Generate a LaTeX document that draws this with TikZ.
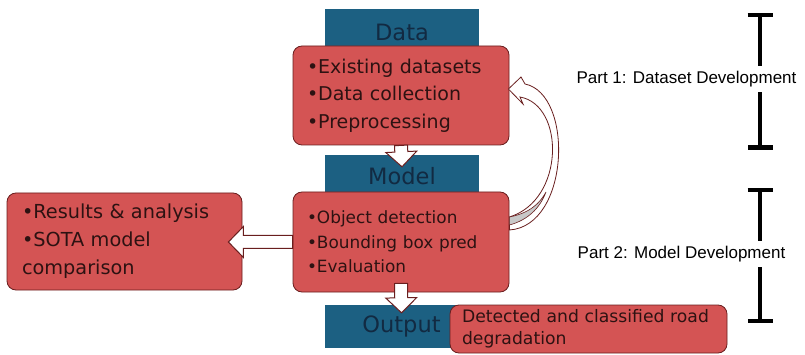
\documentclass[tikz,border=0pt]{standalone}
\usepackage{fontspec}
\setmainfont{DejaVu Sans}
\newfontfamily\partfont{Liberation Sans}
\usetikzlibrary{calc,arrows.meta}

\definecolor{boxred}{RGB}{212,84,84}
\definecolor{boxline}{RGB}{105,30,30}
\definecolor{headblue}{RGB}{28,96,130}
\definecolor{headtext}{RGB}{18,42,66}
\definecolor{bodytext}{RGB}{45,18,18}
\definecolor{ribbon}{RGB}{200,200,200}

\tikzset{
  redbox/.style={draw=boxline, fill=boxred, line width=0.8pt, rounded corners=9pt,
    text=bodytext, align=left, inner xsep=14pt},
  bluehead/.style={fill=headblue, text=headtext, minimum width=154pt,
    font=\fontsize{22.5}{22.5}\selectfont},
  blk/.style={draw=boxline, fill=white, line width=1pt, line join=miter},
  partbar/.style={line width=4.5pt, {Bar[width=25pt]}-{Bar[width=25pt]}},
  partlabel/.style={fill=white, inner xsep=1pt, inner ysep=5pt,
    font=\partfont\fontsize{17}{17}\selectfont},
}

% block arrow from #1 to #2 (tip)
\newcommand\blkarrow[2]{%
  \draw[blk] ($(#1)!6.5pt!90:(#2)$)
    -- ($(#2)!15pt!(#1)!6.5pt!90:(#2)$)
    -- ($(#2)!15pt!(#1)!15.5pt!90:(#2)$)
    -- (#2)
    -- ($(#2)!15pt!(#1)!15.5pt!-90:(#2)$)
    -- ($(#2)!15pt!(#1)!6.5pt!-90:(#2)$)
    -- ($(#1)!6.5pt!-90:(#2)$) -- cycle;}

\begin{document}
\begin{tikzpicture}[x=1pt, y=-1pt]
  \useasboundingbox (0,0) rectangle (805,355);

  % Part 1
  \node[bluehead, minimum height=46pt] (dhead) at (402,32) {Data};
  \node[redbox, text width=188pt, minimum height=99pt,
    font=\fontsize{19}{27.5}\selectfont] (data) at (401,95.5)
    {\textbullet Existing datasets\\\textbullet Data collection\\\textbullet Preprocessing};

  % Part 2
  \node[bluehead, minimum height=43pt] (mhead) at (402,176.5) {Model};
  \node[redbox, text width=188pt, minimum height=100pt,
    font=\fontsize{16.9}{24.5}\selectfont] (model) at (401,242)
    {\textbullet Object detection\\\textbullet Bounding box pred\\\textbullet Evaluation};

  \node[redbox, text width=205pt, inner xsep=15pt, minimum height=97pt,
    font=\fontsize{19.3}{28}\selectfont] (results) at (124.5,241.5)
    {\textbullet Results \& analysis\\\textbullet SOTA model\\comparison};

  \node[bluehead, minimum height=43pt] (ohead) at (401.5,326.5) {Output};
  \node[redbox, text width=253pt, inner xsep=12pt, minimum height=48pt,
    font=\fontsize{17.2}{22}\selectfont] (output) at (588.5,329)
    {Detected and classified road\\degradation};

  % block arrows
  \coordinate (a1s) at (data.south);
  \coordinate (a1e) at ($(mhead.north)+(0,12)$);
  \blkarrow{a1s}{a1e}
  \coordinate (a2s) at ($(model.south)+(0,-9)$);
  \coordinate (a2e) at ($(ohead.north)+(0,8)$);
  \blkarrow{a2s}{a2e}
  \coordinate (a3s) at (model.west);
  \coordinate (a3e) at ($(model.west -| results.east)+(-14,0)$);
  \blkarrow{a3s}{a3e}

  % curved arrow back to the data
  \coordinate (cin) at ($(model.east)+(0,-25)$);
  \coordinate (cout) at ($(model.east)+(0,-12)$);
  \coordinate (ctip) at ($(data.east)+(-1,-6.5)$);
  \draw[blk, line width=0.8pt]
    (cout) .. controls (570,226) and (574,94) .. (525,84)
    -- (521,77) -- (ctip) -- (523,104) -- (520,97)
    .. controls (565,105) and (565,200) .. (cin) -- cycle;
  \draw[boxline, fill=ribbon, line width=0.6pt]
    (cin) .. controls (530,213) and (540,203) .. (546,192)
    .. controls (540,208) and (528,220) .. ($(cin)+(0,8)$) -- cycle;

  % part brackets
  \coordinate (p1top) at (760,13);
  \coordinate (p1bot) at (760,150);
  \coordinate (p2top) at (760,188);
  \coordinate (p2bot) at (760,323);
  \draw[partbar] (p1top) -- (p1bot);
  \draw[partbar] (p2top) -- (p2bot);
  \node[partlabel] (part1) at (686.5,79) {Part 1: Dataset Development};
  \node[partlabel] (part2) at (681.5,254) {Part 2: Model Development};
\end{tikzpicture}
\end{document}
